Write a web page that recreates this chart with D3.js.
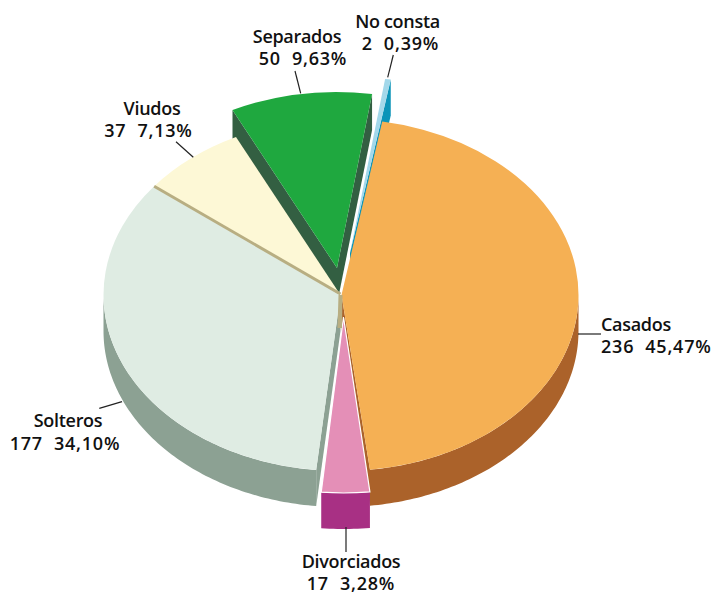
<!DOCTYPE html>
<html><head><meta charset="utf-8">
<script src="https://cdn.jsdelivr.net/npm/d3@7"></script>
<style>html,body{margin:0;background:#fff}svg{display:block}</style>
</head><body><svg id="c" width="712" height="594"></svg>
<script>
const categories = ["Casados","Divorciados","Solteros","Viudos","Separados","No consta"];
const counts = [236,17,177,37,50,2];
const percents = ["45,47","3,28","34,10","7,13","9,63","0,39"];

// presentation
const topColors = ["#f5b054","#e48fb7","#dfece3","#fdf8d6","#1fa83f","#a3d8ea"];
const wallColors = ["#ab622a","#a83084","#8ca193","#b8ae82","#335f42","#0b94b8"];
const explode = [[1,0],[3,22],[0,0],[0,0],[-3.5,-27],[9.5,-42]];
const trim = [[0,-0.5],[0,0],[0.5,0],[0,0],[0,0],[0,0]];
const labelPos = [
  {x:601,y:331,dx:0,gap:22,anchor:"start"},
  {x:351,y:568,dx:0,gap:22,anchor:"middle"},
  {x:68,y:427,dx:-3,gap:23,anchor:"middle"},
  {x:152,y:115,dx:-3.5,gap:22,anchor:"middle"},
  {x:297,y:43,dx:6,gap:22,anchor:"middle"},
  {x:397.5,y:28,dx:3,gap:22,anchor:"middle"}
];
const leaders = [
  [[578,334],[601,334]],
  [[346,527],[346,552]],
  [[122,401.7],[99.3,408.3]],
  [[193.3,157.3],[176,141.7]],
  [[300.7,93.3],[295,71]],
  [[387.7,77.3],[393.3,55]]
];
const cx=340.5, cy=295, rx=237, ry=176, depth=36;
const deg=Math.PI/180;

const pie=d3.pie().sort(null).startAngle(9.9*deg).endAngle(369.9*deg);
const slices=pie(counts).map((d,i)=>({...d,i,
  a0:d.startAngle+trim[i][0]*deg, a1:d.endAngle+trim[i][1]*deg,
  ox:cx+explode[i][0], oy:cy+explode[i][1]}));

const svg=d3.select("#c");
const arc=d3.arc().innerRadius(0).outerRadius(rx);
const line=d3.line();
const pt=(s,a,dy=0)=>[s.ox+rx*Math.sin(a), s.oy-ry*Math.cos(a)+dy];

function rim(s,a0,a1){
  if(a1<=a0) return null;
  const n=Math.max(2,Math.ceil((a1-a0)/deg));
  const t=d3.range(n+1).map(k=>a0+(a1-a0)*k/n);
  return line([...t.map(a=>pt(s,a)),...t.slice().reverse().map(a=>pt(s,a,depth))])+"Z";
}
function wall(s,a){
  const p=pt(s,a), q=pt(s,a,depth);
  return line([[s.ox,s.oy],p,q,[s.ox,s.oy+depth]])+"Z";
}
function drawWalls(s,sides){
  const g=svg.append("g").attr("fill",wallColors[s.i]);
  sides.forEach(a=>g.append("path").attr("d",wall(s,a)));
  const lo=Math.max(s.a0,90*deg), hi=Math.min(s.a1,270*deg);
  const r=rim(s,lo,hi); if(r) g.append("path").attr("d",r);
}
function drawTop(s,stroke){
  svg.append("path")
    .attr("transform",`translate(${s.ox},${s.oy}) scale(1,${ry/rx})`)
    .attr("d",arc({startAngle:s.a0,endAngle:s.a1}))
    .attr("fill",topColors[s.i])
    .attr("stroke",stroke||"none").attr("stroke-width",stroke?1.2:0)
    .attr("vector-effect","non-scaling-stroke");
}
const [cas,div,sol,viu,sep,noc]=slices;

// back to front
drawWalls(sep,[sep.a0,sep.a1]); drawTop(sep);
drawWalls(noc,[noc.a1]); drawTop(noc);
drawTop(viu);
drawWalls(sol,[sol.a0]); drawTop(sol);
// seam between Solteros and Viudos
const seamEnd=pt(viu,viu.a0);
svg.append("path").attr("d",line([[cx,cy-1],seamEnd])).attr("stroke",wallColors[3]).attr("stroke-width",3).attr("fill","none");
drawWalls(cas,[cas.a1]); drawTop(cas);
drawWalls(div,[]);
drawTop(div,"#fff");
// inner wall strip under the centre of the pie
svg.append("path").attr("d",line([[cx-2,cy],[cx+2,cy],[cx+1.5,cy+33]])+"L"+(cx-3)+","+(cy+33)+"Z").attr("fill",wallColors[3]);

// leader lines
svg.append("g").attr("stroke","#222").attr("stroke-width",1.2).attr("fill","none")
  .selectAll("path").data(leaders).join("path").attr("d",d=>line(d));

// labels
const t=svg.append("g").attr("font-family","'Open Sans',sans-serif").attr("font-size",18).attr("font-weight",600).attr("fill","#111");
categories.forEach((c,i)=>{
  const p=labelPos[i];
  t.append("text").attr("x",p.x).attr("y",p.y).attr("text-anchor",p.anchor).attr("letter-spacing",-0.3).text(c);
  t.append("text").attr("x",p.x+p.dx).attr("y",p.y+p.gap).attr("text-anchor",p.anchor).attr("letter-spacing",0.8).text(`${counts[i]}\u00a0\u00a0${percents[i]}%`);
});
</script></body></html>
